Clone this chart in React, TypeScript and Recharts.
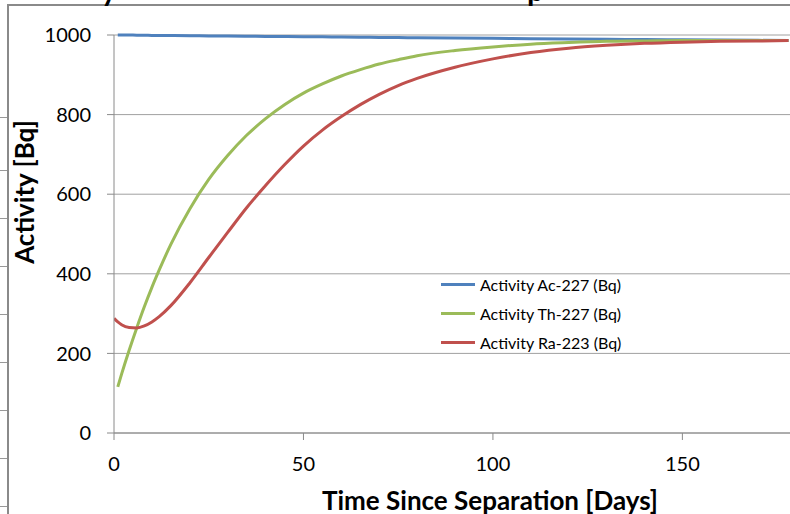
import { LineChart, Line, XAxis, YAxis, CartesianGrid, Legend } from "recharts";

// days since separation
const days = [0, 1, 2, 4, 6, 8, 10, 12, 15, 20, 25, 30, 35, 40, 45, 50, 55, 60, 65, 70, 75, 80, 90, 100, 110, 120, 130, 140, 150, 160, 170, 178];

// activities in Bq
const acActivity = [null, 1000, 1000, 1000, 999.5, 999.5, 999, 999, 998.7, 998.3, 997.8, 997.4, 997, 996.5, 996, 995.7, 995.3, 994.8, 994.4, 994, 993.6, 993.2, 992.4, 991.6, 990.8, 990, 989.3, 988.6, 988, 987.3, 986.6, 986];
const thActivity = [null, 116, 148, 208, 264, 317, 366, 411, 474, 563, 637, 697, 748, 790, 825, 854, 877, 897, 913, 927, 938, 948, 961, 970, 977, 981, 984, 985, 986, 986, 986, 986];
const raActivity = [288, 279, 272, 265, 264, 269, 279, 293, 320, 377, 441, 504, 566, 622, 674, 721, 761, 795, 825, 851, 873, 891, 919, 940, 956, 967, 974, 979, 982, 984, 985, 986];

const seriesOrder = ["ac", "th", "ra"];
const yTicks = [0, 200, 400, 600, 800, 1000];
const xTicks = [0, 50, 100, 150];

const data = days.map((d, i) => ({
  day: d,
  ac: acActivity[i],
  th: thActivity[i],
  ra: raActivity[i],
}));

// stray marks of the neighbouring chart on the left edge
const edgeMarks = [117, 170, 218, 266, 314, 362, 410, 458, 506];

const renderLegend = (props: any) => {
  const items = [...(props.payload || [])].sort(
    (a: any, b: any) => seriesOrder.indexOf(a.dataKey) - seriesOrder.indexOf(b.dataKey)
  );
  return (
    <div>
      {items.map((entry: any) => (
        <div key={entry.value} style={{ display: "flex", alignItems: "center", height: 29 }}>
          <span style={{ display: "inline-block", width: 34, height: 3, background: entry.color, marginRight: 5 }} />
          <span style={{ fontSize: 16, color: "#000", whiteSpace: "nowrap" }}>{entry.value}</span>
        </div>
      ))}
    </div>
  );
};

export default function App() {
  return (
    <div
      style={{
        position: "absolute",
        left: 0,
        top: 0,
        width: 790,
        height: 514,
        overflow: "hidden",
        background: "#fff",
        fontFamily: "Lato, 'Open Sans', sans-serif",
      }}
    >
      {edgeMarks.map((y) => (
        <div key={y} style={{ position: "absolute", left: 0, top: y, width: 7, height: 1, background: "#999" }} />
      ))}
      {/* chart frame */}
      <div style={{ position: "absolute", left: 7, top: 4, width: 800, height: 520, borderTop: "2px solid #8a8a8a", borderLeft: "2px solid #8a8a8a" }} />

      <LineChart width={790} height={514} data={data} margin={{ top: 35, right: 0, left: 0, bottom: 0 }}>
        <CartesianGrid vertical={false} stroke="#a0a0a0" />
        <XAxis
          dataKey="day"
          type="number"
          domain={[0, 178.4]}
          ticks={xTicks}
          allowDataOverflow
          height={81}
          tickSize={7}
          tickMargin={17}
          stroke="#8a8a8a"
          tick={{ fill: "#000", fontSize: 20 }}
        />
        <YAxis
          domain={[0, 1000]}
          ticks={yTicks}
          width={114}
          tickSize={7}
          tickMargin={16}
          stroke="#8a8a8a"
          tick={{ fill: "#000", fontSize: 20 }}
        />
        <Legend
          layout="vertical"
          align="center"
          verticalAlign="middle"
          content={renderLegend}
          wrapperStyle={{ left: 441, top: 270, width: 220 }}
        />
        <Line type="monotone" dataKey="ac" name="Activity Ac-227 (Bq)" stroke="#4f81bd" strokeWidth={3} dot={false} isAnimationActive={false} />
        <Line type="monotone" dataKey="th" name="Activity Th-227 (Bq)" stroke="#9bbb59" strokeWidth={3} dot={false} isAnimationActive={false} />
        <Line type="monotone" dataKey="ra" name="Activity Ra-223 (Bq)" stroke="#c0504d" strokeWidth={3} dot={false} isAnimationActive={false} />
      </LineChart>

      {/* cut-off title, only descenders visible */}
      <div style={{ position: "absolute", left: 101, top: -26, fontSize: 30, lineHeight: "30px", fontWeight: 700, color: "#000" }}>y</div>
      <div style={{ position: "absolute", left: 527, top: -26, fontSize: 30, lineHeight: "30px", fontWeight: 700, color: "#000" }}>p</div>

      <div
        style={{
          position: "absolute",
          left: 24,
          top: 192,
          transform: "translate(-50%, -50%) rotate(-90deg)",
          fontSize: 26,
          lineHeight: "26px",
          fontWeight: 700,
          whiteSpace: "nowrap",
          color: "#000",
        }}
      >
        Activity [Bq]
      </div>
      <div
        style={{
          position: "absolute",
          left: 490,
          top: 500,
          transform: "translate(-50%, -50%)",
          fontSize: 26,
          lineHeight: "26px",
          fontWeight: 700,
          whiteSpace: "nowrap",
          color: "#000",
        }}
      >
        Time Since Separation [Days]
      </div>
    </div>
  );
}
